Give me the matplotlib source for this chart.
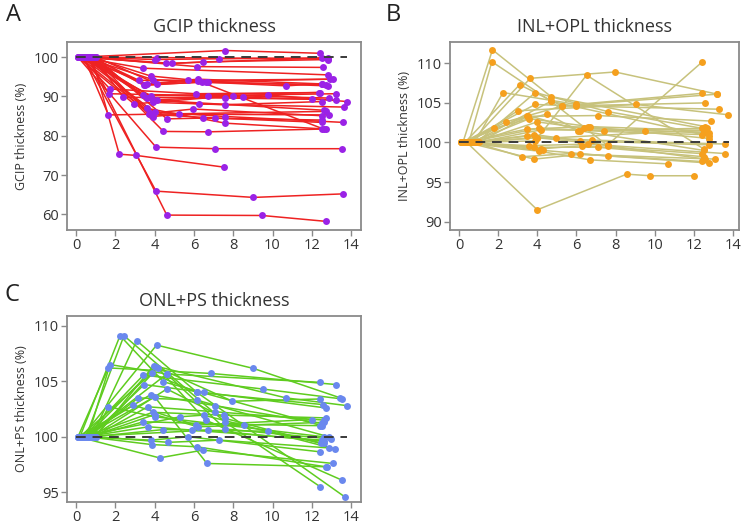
import matplotlib
matplotlib.use('Agg')
from matplotlib import pyplot as plt

plt.rcParams['font.family'] = ['Open Sans', 'DejaVu Sans']

# GCIP thickness (%) per subject: weeks, values
gcip_t = [
    [0.1, 7.6, 12.4], [0.2, 4.1, 12.8], [0.4, 4.0, 7.3, 12.8], [0.3, 4.6, 12.5],
    [0.5, 4.9, 6.45, 12.8], [0.6, 6.15, 12.55], [0.2, 3.4, 12.8], [0.7, 3.2, 5.7, 13.1],
    [0.3, 3.6, 6.2, 12.5], [0.8, 3.8, 6.7, 12.8], [0.5, 3.5, 6.4, 12.7], [0.4, 3.9, 10.7, 12.5],
    [1.0, 4.1, 6.2, 12.6], [0.2, 1.73, 6.1, 12.4], [0.6, 1.66, 6.74, 13.25], [0.9, 2.41, 7.6, 12.0],
    [0.1, 2.95, 8.0, 12.85], [0.7, 3.4, 8.5, 13.25], [0.3, 3.9, 9.75, 13.8], [0.5, 3.6, 6.28, 13.65],
    [0.8, 3.9, 7.6, 12.5], [0.4, 1.65, 12.7], [0.6, 3.77, 5.97, 12.5], [0.2, 3.9, 5.26, 12.85],
    [1.0, 4.62, 6.48, 12.5], [0.9, 3.7, 7.08, 12.5], [0.3, 4.0, 7.6, 13.6], [0.5, 3.6, 7.6, 12.7],
    [0.7, 4.45, 6.74, 12.5], [0.1, 4.07, 7.08, 13.53], [0.8, 2.2, 3.05, 7.54], [0.4, 4.07, 9.03, 13.58],
    [0.6, 4.62, 9.47, 12.73], [0.9, 3.45, 6.6, 12.9], [0.2, 3.8, 12.35], [0.5, 4.1, 12.6],
]
gcip_v = [
    [100, 101.7, 101.0], [100, 99.9, 99.6], [100, 99.4, 99.6, 99.8], [100, 98.4, 99.8],
    [100, 98.4, 98.8, 99.4], [100, 97.6, 97.4], [100, 97.2, 95.5], [100, 94.1, 94.1, 94.4],
    [100, 93.2, 94.4, 93.2], [100, 95.2, 93.8, 92.7], [100, 93.0, 93.6, 93.0], [100, 94.3, 92.7, 93.3],
    [100, 93.3, 94.0, 81.7], [100, 91.9, 90.7, 91.0], [100, 90.7, 90.2, 90.7], [100, 89.8, 89.6, 89.3],
    [100, 88.1, 90.2, 89.6], [100, 90.4, 89.8, 89.1], [100, 89.1, 90.4, 88.7], [100, 89.5, 88.1, 87.3],
    [100, 88.5, 87.9, 88.7], [100, 85.3, 86.2], [100, 85.7, 86.8, 85.1], [100, 84.9, 85.5, 85.3],
    [100, 84.3, 84.5, 84.0], [100, 85.5, 84.5, 83.4], [100, 86.0, 84.9, 83.4], [100, 87.0, 83.2, 81.7],
    [100, 81.1, 81.0, 81.7], [100, 77.1, 76.7, 76.7], [100, 75.3, 75.0, 72.0], [100, 65.9, 64.3, 65.2],
    [100, 59.8, 59.7, 58.2], [100, 92.8, 93.8, 94.4], [100, 90.2, 91.0], [100, 89.0, 86.5],
]

# INL+OPL thickness (%)
inl_t = [
    [0.2, 1.71, 4.7, 12.6], [0.5, 1.68, 4.7, 12.8], [0.8, 2.25, 6.0, 12.4], [0.3, 3.1, 5.27, 13.2],
    [0.6, 3.64, 7.98, 13.2], [0.1, 3.9, 6.52, 12.5], [0.4, 4.0, 8.57, 9.78, 12.0], [0.9, 3.9, 7.6, 12.4],
    [0.2, 3.9, 6.0, 13.3], [0.7, 4.0, 7.6, 12.4], [0.3, 2.4, 5.27, 12.6], [0.5, 3.0, 9.03, 13.75],
    [1.0, 3.5, 7.08, 12.9], [0.6, 3.6, 6.7, 12.5], [0.2, 3.55, 6.2, 12.7], [0.8, 4.0, 6.4, 12.8],
    [0.4, 4.1, 7.4, 12.4], [0.9, 4.2, 9.5, 12.6], [0.1, 3.5, 6.6, 12.8], [0.5, 3.5, 4.97, 12.6],
    [0.7, 3.85, 6.2, 12.8], [0.3, 4.0, 6.8, 13.6], [0.6, 4.2, 6.3, 12.4], [0.9, 3.85, 7.1, 12.5],
    [0.2, 3.6, 6.6, 13.6], [0.8, 3.2, 5.7, 12.4], [0.4, 3.85, 6.2, 13.1], [0.1, 4.1, 6.7, 10.7],
    [0.5, 4.3, 7.6, 12.8], [0.7, 4.7, 7.6, 12.6], [0.3, 1.78, 4.5, 6.1, 12.5],
]
inl_v = [
    [100, 111.7, 105.8, 102.0], [100, 110.2, 105.2, 100.8], [100, 106.3, 104.8, 106.2], [100, 107.3, 104.6, 106.1],
    [100, 108.1, 108.9, 106.1], [100, 100.2, 108.5, 99.2], [100, 91.5, 96.0, 95.8, 95.8], [100, 106.3, 103.9, 101.8],
    [100, 104.8, 104.6, 104.2], [100, 100.6, 99.7, 110.1], [100, 102.6, 104.6, 105.0], [100, 104.0, 104.8, 103.5],
    [100, 103.3, 103.4, 102.7], [100, 103.0, 102.0, 101.5], [100, 103.4, 101.5, 101.8], [100, 102.6, 101.8, 101.2],
    [100, 101.8, 101.4, 101.0], [100, 101.6, 101.5, 101.3], [100, 101.7, 102.0, 100.5], [100, 100.8, 100.6, 101.6],
    [100, 101.0, 100.2, 99.7], [100, 100.6, 100.3, 99.8], [100, 99.2, 99.6, 98.6], [100, 99.4, 99.4, 98.2],
    [100, 99.6, 99.8, 98.6], [100, 98.2, 98.6, 97.6], [100, 97.9, 98.5, 97.9], [100, 98.9, 97.8, 97.3],
    [100, 99.0, 98.3, 97.4], [100, 105.2, 99.6, 97.9], [100, 101.8, 103.6, 101.5, 99.0],
]

# ONL+PS thickness (%)
onl_t = [
    [0.2, 2.24, 4.45, 12.5], [0.5, 2.44, 7.6, 12.43], [0.8, 3.09, 6.15, 13.67], [0.3, 4.1, 9.03, 13.45],
    [0.6, 1.73, 4.62, 12.4], [0.1, 1.65, 6.86, 13.24], [0.9, 1.65, 4.02, 12.6], [0.4, 3.43, 9.49, 13.55],
    [0.7, 3.47, 6.5, 12.7], [0.2, 3.85, 6.15, 12.55], [1.0, 3.95, 10.68, 13.8], [0.5, 4.05, 7.96, 12.4],
    [0.8, 4.62, 7.6, 12.45], [0.3, 3.8, 7.08, 12.5], [0.6, 3.17, 6.15, 12.85], [0.1, 2.92, 6.1, 12.0],
    [0.9, 3.65, 7.08, 12.6], [0.4, 3.9, 7.55, 12.7], [0.7, 3.43, 8.56, 12.4], [0.2, 5.3, 6.49, 13.2],
    [0.5, 3.68, 5.9, 12.5], [0.8, 4.45, 9.76, 12.6], [0.3, 3.8, 5.72, 12.4], [1.0, 4.7, 7.3, 12.85],
    [0.6, 3.85, 6.15, 12.7], [0.1, 4.25, 6.45, 13.07], [0.4, 4.0, 6.66, 12.75], [0.9, 4.15, 6.6, 13.53],
    [0.7, 4.0, 6.2, 12.6], [0.2, 6.7, 12.6], [0.5, 4.62, 7.6, 13.0],
]
onl_v = [
    [100, 109.1, 104.95, 101.0], [100, 109.1, 101.3, 95.5], [100, 108.65, 104.0, 94.6], [100, 108.25, 106.15, 103.5],
    [100, 106.5, 105.65, 104.9], [100, 106.2, 105.7, 104.7], [100, 102.7, 101.8, 100.0], [100, 105.55, 104.3, 103.4],
    [100, 104.7, 104.0, 102.6], [100, 105.7, 104.0, 102.9], [100, 106.4, 103.5, 102.8], [100, 106.3, 103.2, 103.4],
    [100, 104.3, 101.65, 99.4], [100, 103.8, 102.8, 101.2], [100, 103.5, 103.3, 100.0], [100, 102.85, 101.05, 101.55],
    [100, 102.7, 102.25, 101.5], [100, 102.2, 101.95, 101.7], [100, 101.35, 101.1, 101.0], [100, 101.8, 101.95, 98.9],
    [100, 100.9, 100.6, 99.7], [100, 100.65, 100.5, 99.4], [100, 99.7, 100.0, 98.65], [100, 99.5, 99.7, 99.0],
    [100, 99.3, 99.1, 97.3], [100, 98.1, 98.8, 97.6], [100, 103.6, 97.6, 97.3], [100, 106.2, 101.5, 96.1],
    [100, 102.0, 100.9, 101.3], [100, 100.6, 99.6], [100, 105.65, 100.7, 99.8],
]

xticks = [0, 2, 4, 6, 8, 10, 12, 14]


def draw_panel(ax, ts, vs, line_c, dot_c, title, ylabel, ylim, yticks, xmax):
    for t, v in zip(ts, vs):
        ax.plot(t, v, color=line_c, lw=1.1, zorder=2)
    for t, v in zip(ts, vs):
        ax.plot(t, v, 'o', color=dot_c, ms=5, mec='none', zorder=3)
    ax.plot([0, 13.8], [100, 100], color='#3a3a3a', lw=1.4, ls=(0, (5, 3.5)), zorder=4)
    ax.set_xlim(-0.46, xmax)
    ax.set_ylim(*ylim)
    ax.set_xticks(xticks)
    ax.set_yticks(yticks)
    ax.set_title(title, fontsize=13, color='#333333', pad=7)
    ax.set_ylabel(ylabel, fontsize=9, color='#333333', labelpad=4)
    for s in ax.spines.values():
        s.set_color('#8a8a8a')
        s.set_linewidth(1.3)
    ax.tick_params(colors='#8a8a8a', labelcolor='#333333', labelsize=10.5,
                   length=4, width=1, pad=2)


fig = plt.figure(figsize=(7.5, 5.3), dpi=100)
ax_a = fig.add_axes([0.0893, 0.566, 0.392, 0.355])
ax_b = fig.add_axes([0.600, 0.566, 0.385, 0.355])
ax_c = fig.add_axes([0.0893, 0.0528, 0.392, 0.351])

draw_panel(ax_a, gcip_t, gcip_v, '#ee2222', '#9a22e6', 'GCIP thickness',
           'GCIP thickness (%)', (56.0, 103.9), [60, 70, 80, 90, 100], 14.5)
draw_panel(ax_b, inl_t, inl_v, '#c7c27c', '#f5a01e', 'INL+OPL thickness',
           'INL+OPL thickness (%)', (88.95, 112.7), [90, 95, 100, 105, 110], 14.3)
draw_panel(ax_c, onl_t, onl_v, '#5fcc1f', '#6a88ee', 'ONL+PS thickness',
           'ONL+PS thickness (%)', (94.13, 110.87), [95, 100, 105, 110], 14.5)

for letter, x, y in [('A', 0.008, 0.972), ('B', 0.515, 0.972), ('C', 0.006, 0.443)]:
    fig.text(x, y, letter, fontsize=17, color='#222222', ha='left', va='center')

fig.savefig('out.png', dpi=100)
